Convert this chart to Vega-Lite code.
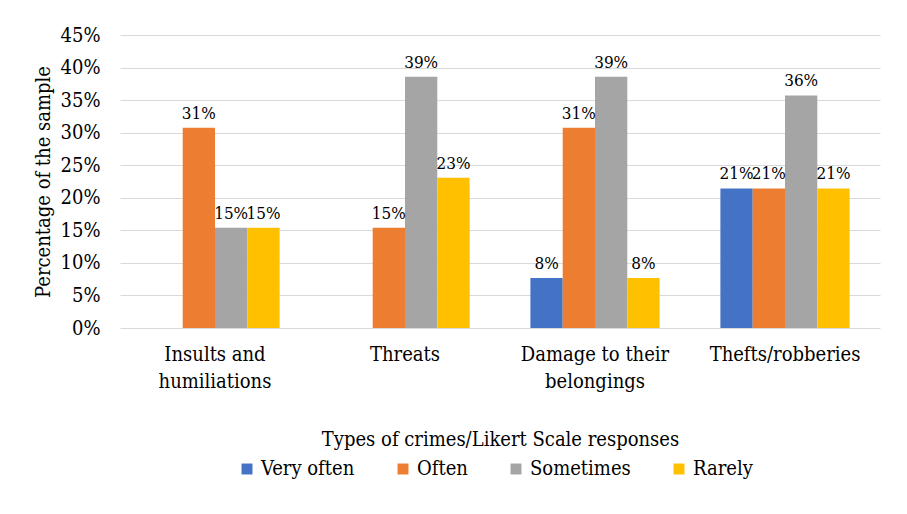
{
  "$schema": "https://vega.github.io/schema/vega-lite/v6.json",
  "width": 760,
  "height": 293,
  "autosize": {"type": "none"},
  "padding": {"left": 120, "top": 35, "right": 27, "bottom": 186},
  "background": "white",
  "config": {
    "view": {"stroke": null},
    "font": "DejaVu Serif Condensed, DejaVu Serif",
    "axis": {"labelFont": "DejaVu Serif Condensed, DejaVu Serif", "titleFont": "DejaVu Serif Condensed, DejaVu Serif", "labelColor": "#000", "titleColor": "#000", "titleFontWeight": "normal"},
    "legend": {"labelFont": "DejaVu Serif Condensed, DejaVu Serif", "labelColor": "#000"}
  },
  "data": {
    "values": [
      {"crime": "Insults and humiliations", "response": "Often", "value": 0.3077},
      {"crime": "Insults and humiliations", "response": "Sometimes", "value": 0.1538},
      {"crime": "Insults and humiliations", "response": "Rarely", "value": 0.1538},
      {"crime": "Threats", "response": "Often", "value": 0.1538},
      {"crime": "Threats", "response": "Sometimes", "value": 0.386},
      {"crime": "Threats", "response": "Rarely", "value": 0.2308},
      {"crime": "Damage to their belongings", "response": "Very often", "value": 0.0769},
      {"crime": "Damage to their belongings", "response": "Often", "value": 0.3077},
      {"crime": "Damage to their belongings", "response": "Sometimes", "value": 0.386},
      {"crime": "Damage to their belongings", "response": "Rarely", "value": 0.0769},
      {"crime": "Thefts/robberies", "response": "Very often", "value": 0.2143},
      {"crime": "Thefts/robberies", "response": "Often", "value": 0.2143},
      {"crime": "Thefts/robberies", "response": "Sometimes", "value": 0.3571},
      {"crime": "Thefts/robberies", "response": "Rarely", "value": 0.2143}
    ]
  },
  "encoding": {
    "x": {
      "field": "crime", "type": "nominal",
      "sort": ["Insults and humiliations", "Threats", "Damage to their belongings", "Thefts/robberies"],
      "scale": {"paddingInner": 0.32, "paddingOuter": 0.16},
      "axis": {
        "title": "Types of crimes/Likert Scale responses",
        "titleFontSize": 20,
        "titlePadding": 38,
        "labelFontSize": 20,
        "labelAngle": 0,
        "labelPadding": 16,
        "labelLineHeight": 27,
        "labelBaseline": "top",
        "labelExpr": "datum.label == 'Insults and humiliations' ? ['Insults and', 'humiliations'] : datum.label == 'Damage to their belongings' ? ['Damage to their', 'belongings'] : datum.label",
        "domain": false,
        "ticks": false,
        "grid": false
      }
    },
    "xOffset": {
      "field": "response", "type": "nominal",
      "scale": {"domain": ["Very often", "Often", "Sometimes", "Rarely"], "paddingInner": 0, "paddingOuter": 0}
    },
    "y": {
      "field": "value", "type": "quantitative",
      "scale": {"domain": [0, 0.45]},
      "axis": {
        "title": "Percentage of the sample",
        "titleFontSize": 20,
        "titlePadding": 7,
        "labelFontSize": 20,
        "labelPadding": 20,
        "format": ".0%",
        "values": [0, 0.05, 0.1, 0.15, 0.2, 0.25, 0.3, 0.35, 0.4, 0.45],
        "domain": false,
        "ticks": false,
        "gridColor": "#d9d9d9",
        "gridWidth": 1
      }
    }
  },
  "layer": [
    {
      "mark": {"type": "bar"},
      "encoding": {
        "color": {
          "field": "response", "type": "nominal",
          "scale": {"domain": ["Very often", "Often", "Sometimes", "Rarely"], "range": ["#4472C4", "#ED7D31", "#A5A5A5", "#FFC000"]},
          "legend": {
            "title": null,
            "orient": "none",
            "direction": "horizontal",
            "legendX": 117,
            "legendY": 424,
            "symbolType": "square",
            "symbolSize": 120,
            "symbolStrokeWidth": 0,
            "labelFontSize": 20,
            "labelOffset": 4,
            "columnPadding": 38
          }
        }
      }
    },
    {
      "mark": {"type": "text", "baseline": "bottom", "dy": -5, "fontSize": 17, "color": "#000", "font": "DejaVu Serif Condensed, DejaVu Serif"},
      "encoding": {
        "text": {"field": "value", "type": "quantitative", "format": ".0%"}
      }
    }
  ]
}
